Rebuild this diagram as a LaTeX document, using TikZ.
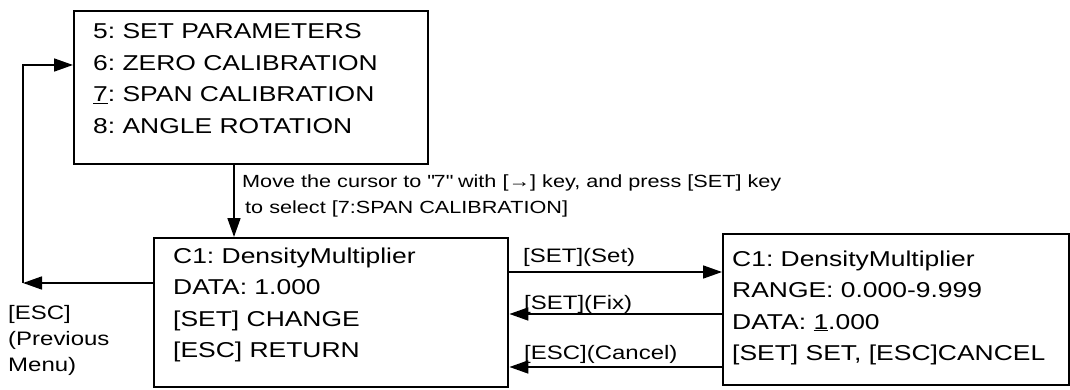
\documentclass[tikz,border=0pt]{standalone}
\usepackage{fontspec}
\setmainfont{Liberation Sans}[FakeStretch=1.23]
\usetikzlibrary{arrows.meta}
\frenchspacing
\begin{document}
\begin{tikzpicture}[x=1pt,y=-1pt,
 boxframe/.style={draw, line width=2.4pt, inner sep=0pt, anchor=north west},
 boxtext/.style={anchor=north west, inner sep=0pt, align=left, font=\fontsize{21.5}{31.5}\selectfont},
 lbl/.style={inner sep=0pt, anchor=base west, font=\fontsize{19.5}{26}\selectfont},
 arr/.style={line width=1.7pt, -{Triangle[length=19pt,width=13pt]}}]
\useasboundingbox (0,0) rectangle (1070,390);
% boxes
\node[boxframe, minimum width=354pt, minimum height=153pt] (menu) at (73,10) {};
\node[boxtext] (menutxt) at (93,23.5) {5: SET PARAMETERS\\6: ZERO CALIBRATION\\\underline{7}: SPAN CALIBRATION\\8: ANGLE ROTATION};
\node[boxframe, minimum width=354pt, minimum height=149pt] (c1) at (153,237) {};
\node[boxtext] (c1txt) at (173,247.5) {C1: DensityMultiplier\\DATA: 1.000\\{[SET]} CHANGE\\{[ESC]} RETURN};
\node[boxframe, minimum width=346pt, minimum height=151pt] (rb) at (722,233) {};
\node[boxtext] (rbtxt) at (732,250.5) {C1: DensityMultiplier\\RANGE: 0.000-9.999\\DATA: \underline{1}.000\\{[SET]} SET, [ESC]CANCEL};
% coordinates
\coordinate (tl) at (23,65);
\coordinate (bl) at (23,283);
\coordinate (dx) at (234,0);
\coordinate (ya) at (0,272);
\coordinate (yb) at (0,314);
\coordinate (yc) at (0,367);
% connectors
\draw[arr] (c1.west |- bl) -- (bl);
\draw[arr] (bl) -- (tl) -- (menu.west |- tl);
\draw[arr] (dx |- menu.south) -- (dx |- c1.north);
\draw[arr] (c1.east |- ya) -- (rb.west |- ya);
\draw[arr] (rb.west |- yb) -- (c1.east |- yb);
\draw[arr] (rb.west |- yc) -- (c1.east |- yc);
% labels
\node[lbl, font=\fontsize{17.6}{22}\selectfont] (mv1) at (242,188) {Move the cursor to \textquotedbl 7\textquotedbl{} with [→] key, and press [SET] key};
\node[lbl, font=\fontsize{17.6}{22}\selectfont] (mv2) at (245,213) {to select [7:SPAN CALIBRATION]};
\node[lbl] (lset) at (523,262) {[SET](Set)};
\node[lbl] (lfix) at (524,309) {[SET](Fix)};
\node[lbl] (lesc) at (524,359) {[ESC](Cancel)};
\node[lbl] (esc1) at (8,319) {[ESC]};
\node[lbl] (esc2) at (8,345) {(Previous};
\node[lbl] (esc3) at (8,371) {Menu)};
\end{tikzpicture}
\end{document}
